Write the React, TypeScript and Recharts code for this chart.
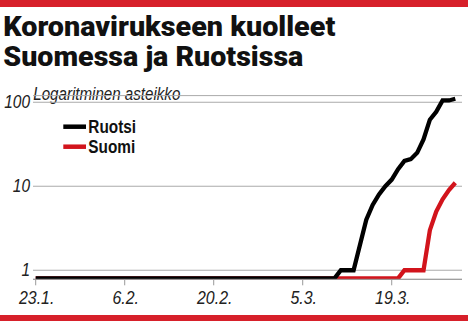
import { LineChart, Line, XAxis, YAxis, CartesianGrid, Legend } from 'recharts';

// day index 0 = 23.1.2020, last point = 29.3.2020
const TICK_DAYS = [0, 14, 28, 42, 56];
const TICK_LABELS = ['23.1.', '6.2.', '20.2.', '5.3.', '19.3.'];
const Y_TICKS = [1, 10, 100];
const LEGEND_ORDER = ['Ruotsi', 'Suomi'];

// cumulative deaths per day
const RUOTSI = [
  0, 0, 0, 0, 0, 0, 0, 0, 0, 0, 0, 0,
  0, 0, 0, 0, 0, 0, 0, 0, 0, 0, 0, 0,
  0, 0, 0, 0, 0, 0, 0, 0, 0, 0, 0, 0,
  0, 0, 0, 0, 0, 0, 0, 0, 0, 0, 0, 0,
  1, 1, 1, 2, 4, 6, 8, 10, 12, 16, 20, 21, 25, 36, 62, 77, 105, 105, 110,
];
const SUOMI = [
  0, 0, 0, 0, 0, 0, 0, 0, 0, 0, 0, 0,
  0, 0, 0, 0, 0, 0, 0, 0, 0, 0, 0, 0,
  0, 0, 0, 0, 0, 0, 0, 0, 0, 0, 0, 0,
  0, 0, 0, 0, 0, 0, 0, 0, 0, 0, 0, 0,
  0, 0, 0, 0, 0, 0, 0, 0, 0, 0,
  1, 1, 1, 1, 3, 5, 7, 9, 11,
];

// log axis can't show 0, zeros sit on the floor just under 1
const LOG_FLOOR = 0.8;

const RED = '#d2141c';
const FONT = '"Liberation Sans", Arial, sans-serif';

const data = RUOTSI.map((v, i) => ({
  day: i,
  Ruotsi: Math.max(v, LOG_FLOOR),
  Suomi: Math.max(SUOMI[i], LOG_FLOOR),
}));

function XTick({ x, y, payload }: any) {
  const label = TICK_LABELS[TICK_DAYS.indexOf(payload.value)];
  return (
    <text transform={`translate(${x + 1},${y + 16.5}) scale(0.86,1)`} textAnchor="middle"
      fontFamily={FONT} fontStyle="italic" fontSize={18.5} fill="#222">
      {label}
    </text>
  );
}

function YTick({ x, y, payload }: any) {
  return (
    <text transform={`translate(${x},${y + 6}) scale(0.86,1)`} textAnchor="end"
      fontFamily={FONT} fontStyle="italic" fontSize={18} fill="#222">
      {payload.value}
    </text>
  );
}

function LegendBox({ payload }: any) {
  const items = [...(payload || [])].sort(
    (a: any, b: any) => LEGEND_ORDER.indexOf(a.value) - LEGEND_ORDER.indexOf(b.value));
  return (
    <svg width={100} height={50}>
      {items.map((p: any, i: number) => (
        <g key={p.value}>
          <line x1={3.3} x2={26} y1={16.7 + i * 20} y2={16.7 + i * 20} stroke={p.color} strokeWidth={4.5} />
          <text transform={`translate(28.3,${23.3 + i * 20}) scale(0.83,1)`} fontFamily={FONT}
            fontWeight="bold" fontSize={18.5} fill="#111">
            {p.value}
          </text>
        </g>
      ))}
    </svg>
  );
}

export default function App() {
  return (
    <div style={{ position: 'absolute', left: 0, top: 0, width: 468, height: 321, background: '#fff', fontFamily: FONT, overflow: 'hidden' }}>
      <div style={{ position: 'absolute', left: 0, top: 0, width: 468, height: 6.5, background: '#d7202a' }} />
      <div style={{ position: 'absolute', left: 0, top: 315, width: 468, height: 6, background: '#d7202a' }} />
      <svg width={468} height={110} style={{ position: 'absolute', left: 0, top: 0 }}>
        <text x={3.3} y={35.5} textLength={332} lengthAdjust="spacingAndGlyphs"
          fontFamily="Roboto, sans-serif" fontWeight={900} fontSize={28} fill="#111">
          Koronavirukseen kuolleet
        </text>
        <text x={3.3} y={66} textLength={300} lengthAdjust="spacingAndGlyphs"
          fontFamily="Roboto, sans-serif" fontWeight={900} fontSize={28} fill="#111">
          Suomessa ja Ruotsissa
        </text>
        <text x={33.3} y={99.5} textLength={147} lengthAdjust="spacingAndGlyphs"
          fontFamily={FONT} fontStyle="italic" fontSize={18} fill="#222">
          Logaritminen asteikko
        </text>
      </svg>
      <div style={{ position: 'absolute', left: 0, top: 0 }}>
        <LineChart width={468} height={321} data={data} margin={{ top: 95.6, right: 6, bottom: 0, left: 0 }}>
          <CartesianGrid vertical={false} stroke="#aaa" strokeWidth={1} />
          <XAxis dataKey="day" type="number" domain={[0, 66]} ticks={TICK_DAYS} height={41.7}
            padding={{ left: 2.7, right: 6.7 }} stroke="#999" tickSize={6} tickMargin={2}
            tick={<XTick />} interval={0} />
          <YAxis type="number" scale="log" domain={[0.78, 120]} allowDataOverflow ticks={Y_TICKS}
            width={33} axisLine={false} tickLine={false} tickSize={0} tickMargin={3}
            tick={<YTick />} interval={0} />
          <Legend layout="vertical" align="center" verticalAlign="middle"
            wrapperStyle={{ left: 60, top: 110, width: 100, height: 50 }} content={<LegendBox />} />
          <Line dataKey="Suomi" name="Suomi" stroke={RED} strokeWidth={4.3} dot={false}
            activeDot={false} isAnimationActive={false} />
          <Line dataKey="Ruotsi" name="Ruotsi" stroke="#000" strokeWidth={4.3} dot={false}
            activeDot={false} isAnimationActive={false} />
        </LineChart>
      </div>
    </div>
  );
}
